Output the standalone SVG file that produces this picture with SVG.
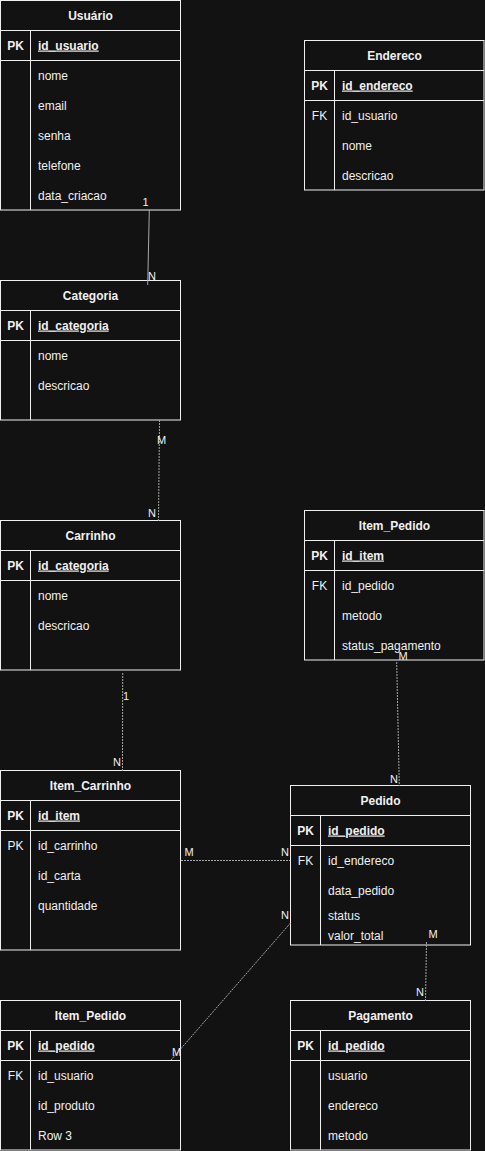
<svg xmlns="http://www.w3.org/2000/svg" width="485" height="1151" viewBox="0 0 485 1151">
<style>
.bg{fill:#121212}
.tb{fill:none;stroke:#f0f0f0;stroke-width:1}
.ln{stroke:#f0f0f0;stroke-width:1;fill:none}
text{font-family:"Liberation Sans",Arial,sans-serif;fill:#f0f0f0}
.h{font-size:12px;font-weight:bold;text-anchor:middle}
.k{font-size:12px;font-weight:bold;text-anchor:middle}
.kn{font-size:12px;text-anchor:middle}
.pk{font-size:12px;font-weight:bold;text-decoration:underline}
.f{font-size:12px}
.lb{font-size:11px}
.c{stroke:#a8a8a8;stroke-width:1;fill:none}
.d{stroke-dasharray:2 1}
</style>
<rect class="bg" x="0" y="0" width="485" height="1151"/>

<g id="usuario">
<rect class="tb" x="0.5" y="0.5" width="180" height="209.5"/>
<path class="ln" d="M0.5 30.5H180.5M0.5 60.5H180.5M30.5 30.5V210"/>
<text class="h" x="90.5" y="19.5">Usuário</text>
<text class="k" x="15.5" y="49.5">PK</text>
<text class="pk" x="38" y="49.5">id_usuario</text>
<text class="f" x="38" y="79.5">nome</text>
<text class="f" x="38" y="109.5">email</text>
<text class="f" x="38" y="139.5">senha</text>
<text class="f" x="38" y="169.5">telefone</text>
<text class="f" x="38" y="199.5">data_criacao</text>
</g>

<g id="endereco">
<rect class="tb" x="304.5" y="40.5" width="179.5" height="149.5"/>
<path class="ln" d="M304.5 70.5H484M304.5 100.5H484M334.5 70.5V190"/>
<text class="h" x="394.5" y="59.5">Endereco</text>
<text class="k" x="319.5" y="89.5">PK</text>
<text class="pk" x="342" y="89.5">id_endereco</text>
<text class="kn" x="319.5" y="119.5">FK</text>
<text class="f" x="342" y="119.5">id_usuario</text>
<text class="f" x="342" y="149.5">nome</text>
<text class="f" x="342" y="179.5">descricao</text>
</g>

<g id="categoria">
<rect class="tb" x="0.5" y="280.5" width="180" height="139.5"/>
<path class="ln" d="M0.5 310.5H180.5M0.5 340.5H180.5M30.5 310.5V420"/>
<text class="h" x="90.5" y="299.5">Categoria</text>
<text class="k" x="15.5" y="329.5">PK</text>
<text class="pk" x="38" y="329.5">id_categoria</text>
<text class="f" x="38" y="359.5">nome</text>
<text class="f" x="38" y="389.5">descricao</text>
</g>

<g id="carrinho">
<rect class="tb" x="0.5" y="520.5" width="180" height="149.5"/>
<path class="ln" d="M0.5 550.5H180.5M0.5 580.5H180.5M30.5 550.5V670"/>
<text class="h" x="90.5" y="539.5">Carrinho</text>
<text class="k" x="15.5" y="569.5">PK</text>
<text class="pk" x="38" y="569.5">id_categoria</text>
<text class="f" x="38" y="599.5">nome</text>
<text class="f" x="38" y="629.5">descricao</text>
</g>

<g id="item_pedido_1">
<rect class="tb" x="304.5" y="510.5" width="179.5" height="149.5"/>
<path class="ln" d="M304.5 540.5H484M304.5 570.5H484M334.5 540.5V660"/>
<text class="h" x="394.5" y="529.5">Item_Pedido</text>
<text class="k" x="319.5" y="559.5">PK</text>
<text class="pk" x="342" y="559.5">id_item</text>
<text class="kn" x="319.5" y="589.5">FK</text>
<text class="f" x="342" y="589.5">id_pedido</text>
<text class="f" x="342" y="619.5">metodo</text>
<text class="f" x="342" y="649.5">status_pagamento</text>
</g>

<g id="item_carrinho">
<rect class="tb" x="0.5" y="770.5" width="180" height="179.5"/>
<path class="ln" d="M0.5 800.5H180.5M0.5 830.5H180.5M30.5 800.5V950"/>
<text class="h" x="90.5" y="789.5">Item_Carrinho</text>
<text class="k" x="15.5" y="819.5">PK</text>
<text class="pk" x="38" y="819.5">id_item</text>
<text class="kn" x="15.5" y="849.5">PK</text>
<text class="f" x="38" y="849.5">id_carrinho</text>
<text class="f" x="38" y="879.5">id_carta</text>
<text class="f" x="38" y="909.5">quantidade</text>
</g>

<g id="pedido">
<rect class="tb" x="290.5" y="785.5" width="180" height="159.5"/>
<path class="ln" d="M290.5 815.5H470.5M290.5 845.5H470.5M320.5 815.5V945"/>
<text class="h" x="380.5" y="804.5">Pedido</text>
<text class="k" x="305.5" y="834.5">PK</text>
<text class="pk" x="328" y="834.5">id_pedido</text>
<text class="kn" x="305.5" y="864.5">FK</text>
<text class="f" x="328" y="864.5">id_endereco</text>
<text class="f" x="328" y="894.5">data_pedido</text>
<text class="f" x="328" y="919.5">status</text>
<text class="f" x="328" y="939.5">valor_total</text>
</g>

<g id="item_pedido_2">
<rect class="tb" x="0.5" y="1000.5" width="180" height="149.5"/>
<path class="ln" d="M0.5 1030.5H180.5M0.5 1060.5H180.5M30.5 1030.5V1150"/>
<text class="h" x="90.5" y="1019.5">Item_Pedido</text>
<text class="k" x="15.5" y="1049.5">PK</text>
<text class="pk" x="38" y="1049.5">id_pedido</text>
<text class="kn" x="15.5" y="1079.5">FK</text>
<text class="f" x="38" y="1079.5">id_usuario</text>
<text class="f" x="38" y="1109.5">id_produto</text>
<text class="f" x="38" y="1139.5">Row 3</text>
</g>

<g id="pagamento">
<rect class="tb" x="290.5" y="1000.5" width="180" height="149.5"/>
<path class="ln" d="M290.5 1030.5H470.5M290.5 1060.5H470.5M320.5 1030.5V1150"/>
<text class="h" x="380.5" y="1019.5">Pagamento</text>
<text class="k" x="305.5" y="1049.5">PK</text>
<text class="pk" x="328" y="1049.5">id_pedido</text>
<text class="f" x="328" y="1079.5">usuario</text>
<text class="f" x="328" y="1109.5">endereco</text>
<text class="f" x="328" y="1139.5">metodo</text>
</g>

<g id="connectors">
<path class="c" d="M149.3 210L147.7 285"/>
<path class="c d" d="M159.5 420L158.5 522"/>
<path class="c d" d="M122.7 673L122.5 771"/>
<path class="c d" d="M396.7 662L399.3 786"/>
<path class="c d" d="M181 860.5H290"/>
<path class="c d" d="M290.5 923L171 1060"/>
<path class="c d" d="M426.5 942L425.5 1001"/>
<text class="lb" x="142.5" y="205.5">1</text>
<text class="lb" x="148" y="279.5">N</text>
<text class="lb" x="157" y="444">M</text>
<text class="lb" x="148" y="517">N</text>
<text class="lb" x="123" y="699.5">1</text>
<text class="lb" x="113" y="766">N</text>
<text class="lb" x="398.5" y="660">M</text>
<text class="lb" x="390" y="783">N</text>
<text class="lb" x="184.5" y="856">M</text>
<text class="lb" x="281" y="856">N</text>
<text class="lb" x="281" y="919">N</text>
<text class="lb" x="172" y="1056">M</text>
<text class="lb" x="428.5" y="938">M</text>
<text class="lb" x="416" y="995.5">N</text>
</g>
</svg>
